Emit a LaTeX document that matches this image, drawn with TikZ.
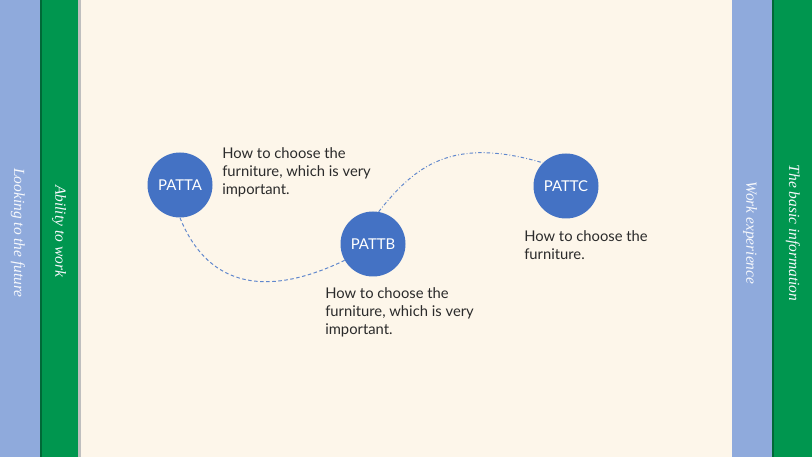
\documentclass[tikz,border=0pt]{standalone}
\usepackage{fontspec}
\usepackage{tikz}
\newfontfamily\bodyfont{Lato}
\newfontfamily\sidefont{Liberation Serif}
\definecolor{stripblue}{HTML}{8FAADC}
\definecolor{stripgreen}{HTML}{00964F}
\definecolor{paper}{HTML}{FDF6EA}
\definecolor{dotblue}{HTML}{4472C4}
\definecolor{textgray}{HTML}{2B2B2B}
\tikzset{
  dot/.style={circle, fill=dotblue, minimum size=65*0.025cm, inner sep=0pt,
    text=white, font=\bodyfont\fontsize{10.6}{12}\selectfont},
  note/.style={anchor=north west, align=left, inner sep=0pt, text=textgray,
    font=\bodyfont\fontsize{10.5}{12.9}\selectfont},
  sidelabel/.style={rotate=-90, text=white!92!stripblue, font=\sidefont\itshape\fontsize{11}{13}\selectfont},
  link/.style={dotblue!85, line width=0.7pt}
}
\begin{document}
\begin{tikzpicture}[x=0.025cm, y=-0.025cm]
    \useasboundingbox (0,0) rectangle (812,457);
    % background and side strips
    \fill[paper] (0,0) rectangle (812,457);
    \fill[black!25] (78,0) rectangle (81,457);
    \fill[stripblue] (0,0) rectangle (40,457);
    \fill[stripgreen] (40,0) rectangle (78,457);
    \fill[stripgreen!70!black] (40,0) rectangle (42,457);
    \fill[stripblue] (732,0) rectangle (772,457);
    \fill[stripgreen] (772,0) rectangle (812,457);
    \fill[stripgreen!70!black] (772,0) rectangle (774,457);

    \node[sidelabel] (future) at (18,233) {Looking to the future};
    \node[sidelabel] (ability) at (59,231) {Ability to work};
    \node[sidelabel] (experience) at (750,233) {Work experience};
    \node[sidelabel] (basic) at (793,233) {The basic information};

    % circles
    \node[dot] (patta) at (180,185) {PATTA};
    \node[dot] (pattb) at (373,244) {PATTB};
    \node[dot] (pattc) at (566,186) {PATTC};

    % notes
    \node[note] (notea) at (222,147) {How to choose the\\furniture, which is very\\important.};
    \node[note] (noteb) at (325,287) {How to choose the\\furniture, which is very\\important.};
    \node[note] (notec) at (524,230) {How to choose the\\furniture.};

    % links
    \draw[link, dash pattern=on 2.5pt off 1.8pt] (patta.south) .. controls (205,280) and (258,302) .. (pattb.210);
    \draw[link, dash pattern=on 2.5pt off 1.5pt on 0.6pt off 1.5pt] (pattb.80) .. controls (415,166) and (452,136) .. (pattc.135);
  \end{tikzpicture}
\end{document}
